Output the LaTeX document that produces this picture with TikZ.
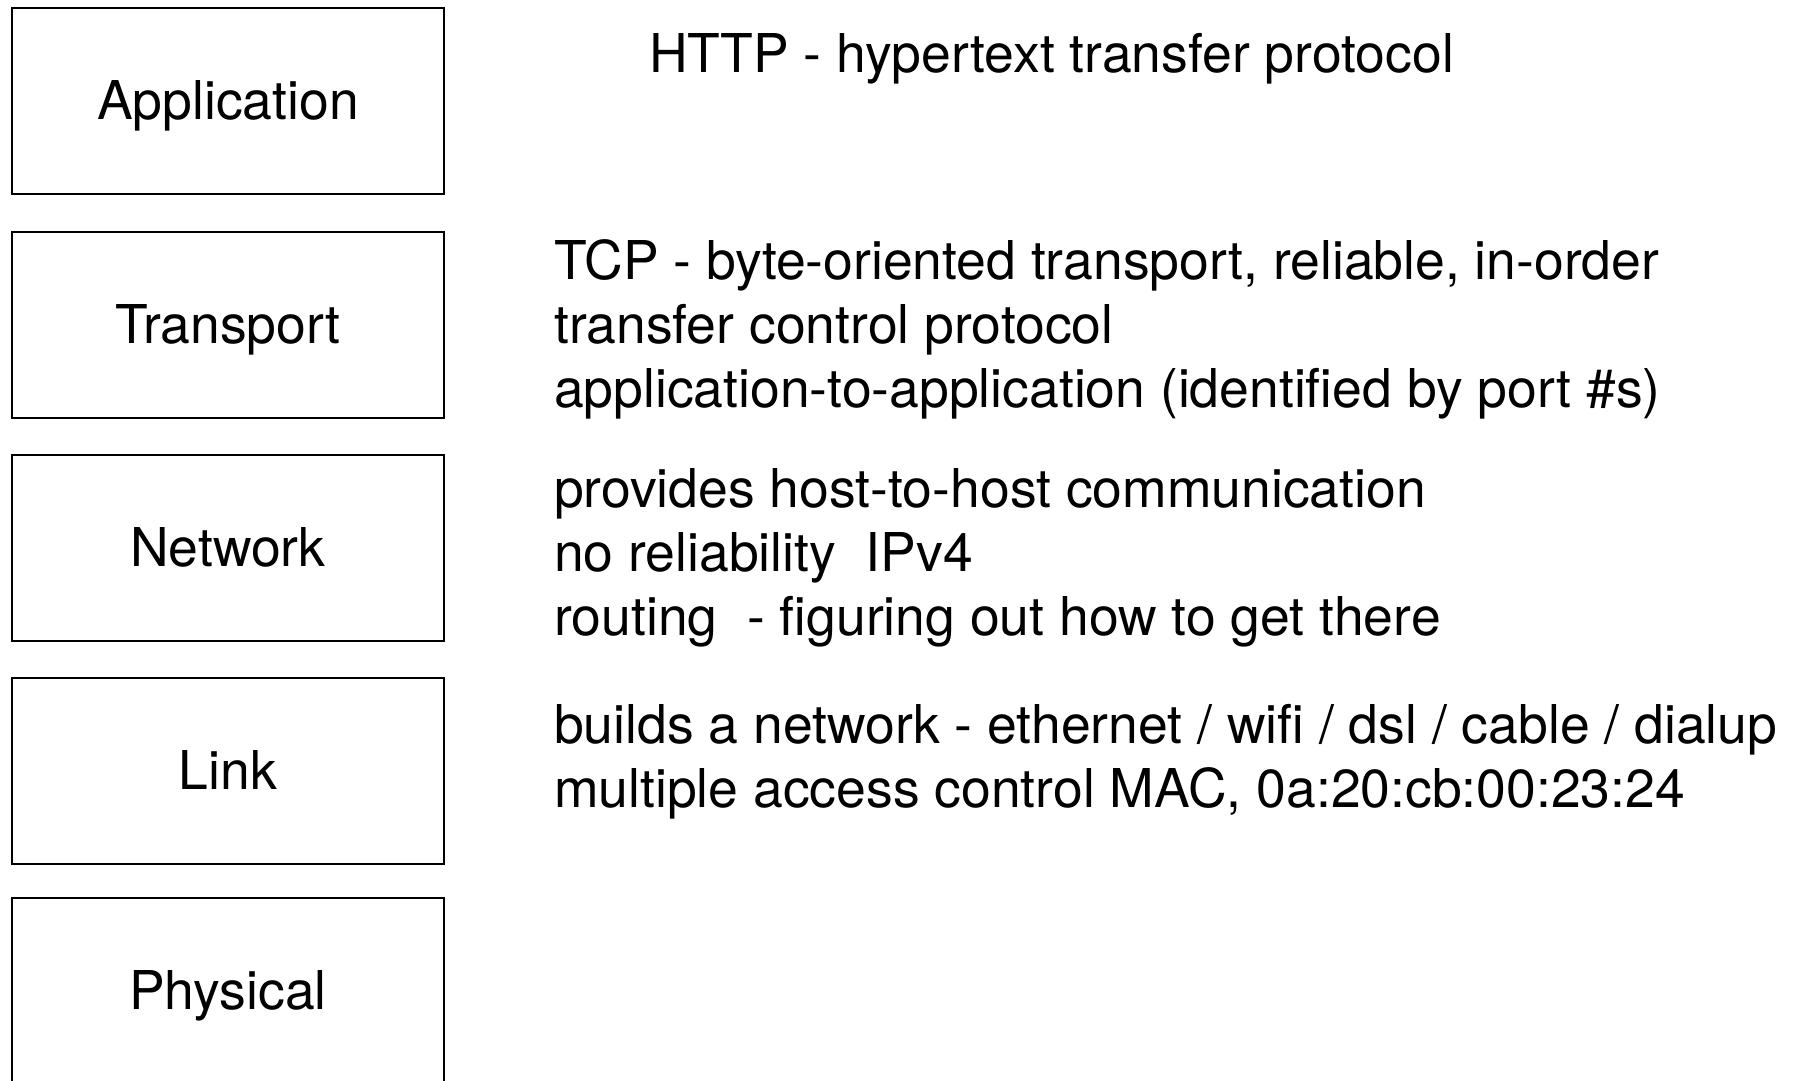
\documentclass[tikz,border=0pt]{standalone}
\usepackage{fontspec}
\setmainfont{TeX Gyre Heros}
\begin{document}
\begin{tikzpicture}[x=1pt,y=-1pt,
  layer/.style={draw=black, line width=2pt, minimum width=432.6pt, minimum height=186pt,
    inner sep=0pt, text height=37.8pt, text depth=0pt, font=\fontsize{53.5}{64}\selectfont},
  desc/.style={anchor=base west, inner sep=0pt, font=\fontsize{53.5}{64}\selectfont}]
\useasboundingbox (0,0) rectangle (1793,1080);
\node[layer] (app) at (228,101) {Application};
\node[layer] (trans) at (228,324.5) {Transport};
\node[layer] (net) at (228,547.5) {Network};
\node[layer] (link) at (228,771) {Link};
\node[layer] (phys) at (228,991) {Physical};
\node[desc] (http) at (649,72.7) {HTTP - hypertext transfer protocol};
\node[desc] (tcpa) at (554,279) {TCP - byte-oriented transport, reliable, in-order};
\node[desc] (tcpb) at (554,343) {transfer control protocol};
\node[desc] (tcpc) at (554,407) {application-to-application (identified by port \#s)};
\node[desc] (neta) at (554,507.5) {provides host-to-host communication};
\node[desc] (netb) at (554,571.5) {no reliability\ \ IPv4};
\node[desc] (netc) at (554,635.5) {routing\ \ - figuring out how to get there};
\node[desc] (linka) at (554,743) {builds a network - ethernet / wifi / dsl / cable / dialup};
\node[desc] (linkb) at (554,807) {multiple access control MAC, 0a:20:cb:00:23:24};
\end{tikzpicture}
\end{document}
